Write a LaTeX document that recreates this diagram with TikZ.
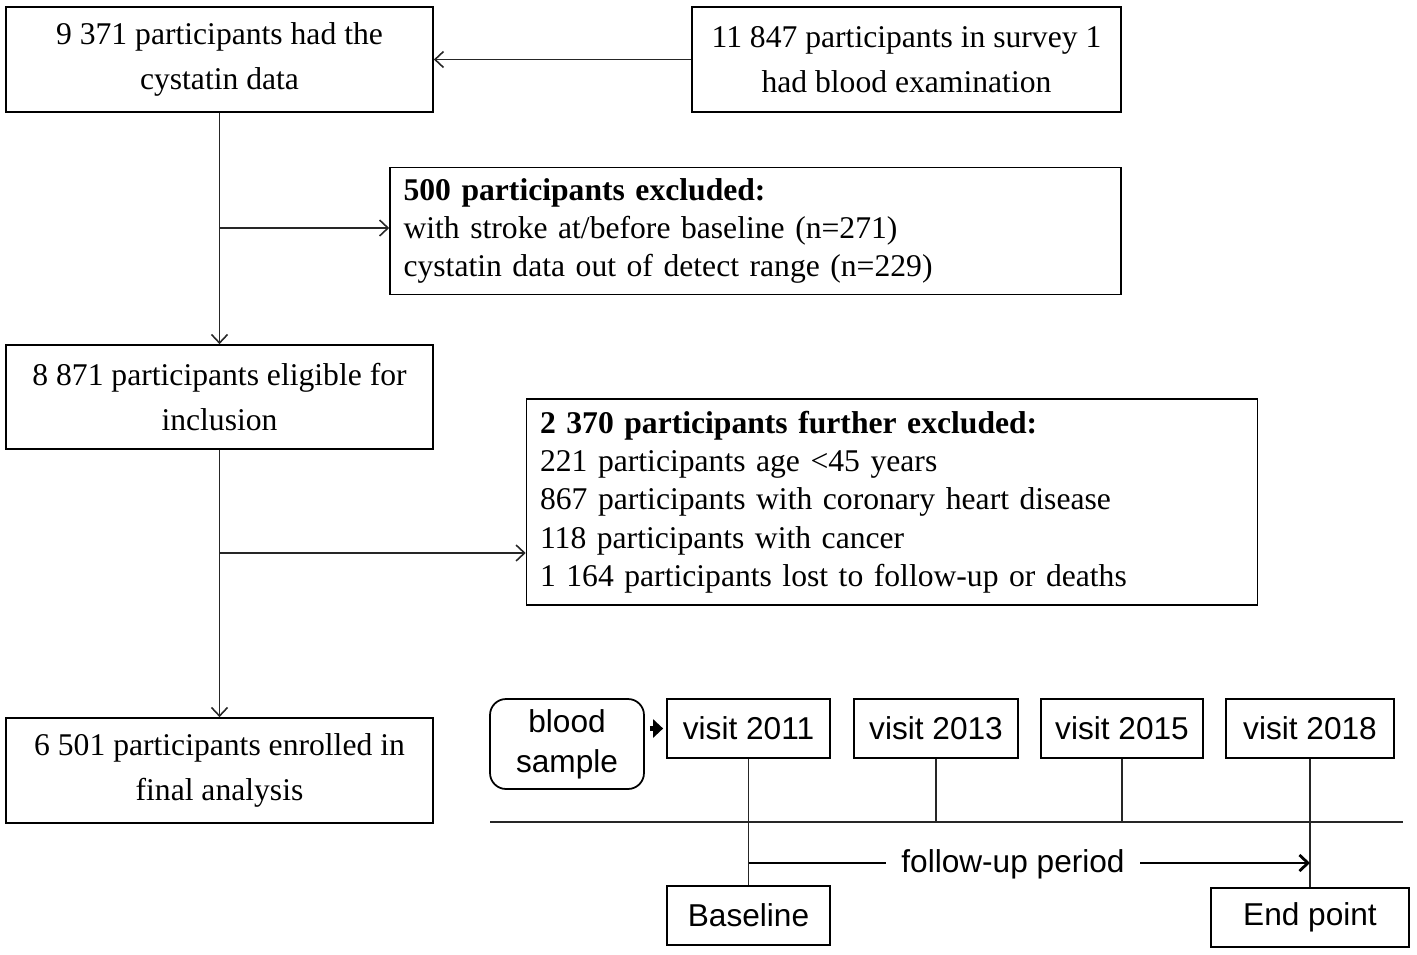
\documentclass[tikz,border=0pt]{standalone}
\usepackage{fontspec}
\setmainfont{Liberation Serif}
\setsansfont{Liberation Sans}
\usetikzlibrary{arrows.meta}
\begin{document}
\begin{tikzpicture}[x=0.02cm,y=-0.02cm,
  box/.style={draw, line width=1pt, inner sep=0pt, align=center,
    font=\fontsize{18}{26}\selectfont, minimum height=2.1cm},
  lbox/.style={draw, line width=1pt, inner xsep=0.27cm, inner ysep=0pt, align=left,
    font=\fontsize{18}{21.8}\selectfont},
  sbox/.style={draw, line width=1pt, inner sep=0pt, align=center,
    font=\sffamily\fontsize{18}{22.7}\selectfont, minimum height=1.18cm},
  conn/.style={line width=0.9pt, draw=black!85},
  arr/.style={conn, -{Straight Barb[length=0.17cm,width=0.32cm]}}
]
\useasboundingbox (0,0) rectangle (1417,954);

% flowchart
\node[box, minimum width=8.54cm] (A) at (219.5,59.5) {9 371 participants had the\\cystatin data};
\node[box, minimum width=8.58cm] (B) at (906.5,59.5) {11 847 participants in survey 1\\had blood examination};
\node[lbox, text width=14.08cm, minimum height=2.54cm] (C) at (755.5,231)
  {\textbf{500 participants excluded:}\\with stroke at/before baseline (n=271)\\cystatin data out of detect range (n=229)};
\node[box, minimum width=8.54cm, minimum height=2.08cm] (D) at (219.5,397) {8 871 participants eligible for\\inclusion};
\node[lbox, text width=14.08cm, minimum height=4.12cm] (E) at (892,502)
  {\textbf{2 370 participants further excluded:}\\221 participants age <45 years\\867 participants with coronary heart disease\\118 participants with cancer\\1 164 participants lost to follow-up or deaths};
\node[box, minimum width=8.54cm] (F) at (219.5,770.5) {6 501 participants enrolled in\\final analysis};

\draw[arr] (B.west) -- (A.east);
\draw[arr] (A.south) -- (D.north);
\draw[arr] (A.south |- 0,228) -- (C.west |- 0,228);
\draw[arr] (D.south) -- (F.north);
\coordinate (j2) at (219.5,553);
\draw[arr] (j2) -- (j2 -| E.west);

% timeline
\node[sbox, rounded corners=0.32cm, minimum width=3.08cm, minimum height=1.8cm] (blood) at (567,744) {blood\\sample};
\node[sbox, minimum width=3.26cm] (v11) at (748.5,728.5) {visit 2011};
\node[sbox, minimum width=3.28cm] (v13) at (936,728.5) {visit 2013};
\node[sbox, minimum width=3.24cm] (v15) at (1122,728.5) {visit 2015};
\node[sbox, minimum width=3.36cm] (v18) at (1310,728.5) {visit 2018};
\node[sbox, minimum width=3.26cm] (base) at (748.5,915.5) {Baseline};
\node[sbox, minimum width=3.96cm] (endp) at (1310,917.5) {End point};

\draw[line width=3pt, -{Triangle[length=0.2cm,width=0.36cm]}, shorten <=0.1cm, shorten >=0.06cm]
  (blood.east |- v11.west) -- (v11.west);

\coordinate (tlL) at (490,822);
\coordinate (tlR) at (1403,822);
\draw[conn] (tlL) -- (tlR);
\draw[conn] (v11.south) -- (base.north);
\draw[conn] (v13.south) -- (v13.south |- tlL);
\draw[conn] (v15.south) -- (v15.south |- tlL);
\draw[conn] (v18.south) -- (endp.north);

\coordinate (fuL) at (748.5,863);
\coordinate (fuR) at (1310,863);
\draw[line width=1.6pt, -{Straight Barb[length=0.17cm,width=0.32cm]}] (fuL) -- (fuR);
\node[fill=white, inner xsep=0.3cm, inner ysep=2pt, font=\sffamily\fontsize{18}{22}\selectfont] (fu) at (1013,864) {follow-up period};
\end{tikzpicture}
\end{document}
